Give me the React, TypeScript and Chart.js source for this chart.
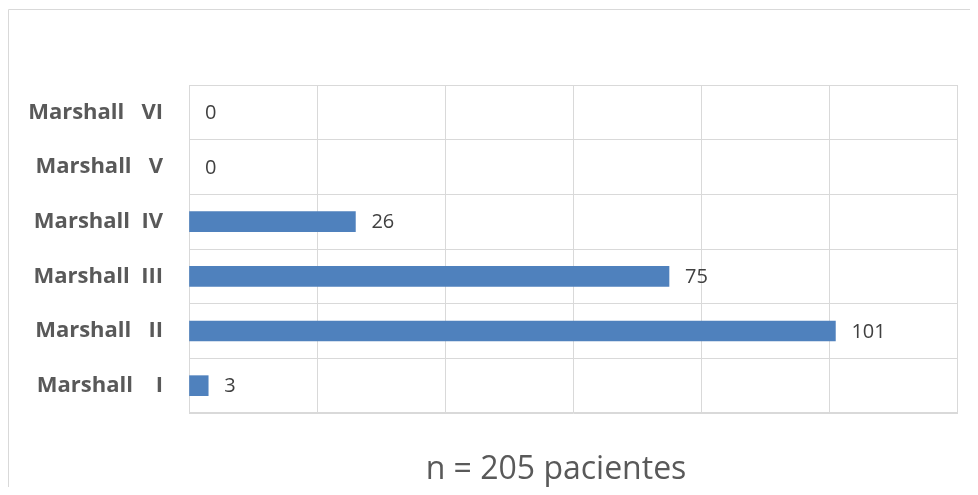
import React, { useEffect, useRef } from "react";
import { Chart, registerables } from "chart.js";

Chart.register(...registerables);

const categories = ["Marshall   VI", "Marshall   V", "Marshall  IV", "Marshall  III", "Marshall   II", "Marshall    I"];
const patients = [0, 0, 26, 75, 101, 3];
const xTicksMax = 120;
const xTickStep = 20;
const footerText = "n = 205 pacientes";

const FONT = "'Open Sans', sans-serif";

const decorPlugin = {
  id: "decor",
  beforeDraw(chart: any) {
    const { ctx, width, height } = chart;
    ctx.save();
    ctx.strokeStyle = "#d9d9d9";
    ctx.lineWidth = 1;
    ctx.beginPath();
    ctx.moveTo(0.5, height);
    ctx.lineTo(0.5, 1.5);
    ctx.lineTo(width, 1.5);
    ctx.stroke();
    ctx.restore();
  },
  afterDatasetsDraw(chart: any) {
    const { ctx, chartArea } = chart;
    const meta = chart.getDatasetMeta(0);
    ctx.save();
    ctx.fillStyle = "#404040";
    ctx.font = `20px ${FONT}`;
    ctx.textBaseline = "middle";
    ctx.textAlign = "left";
    meta.data.forEach((el: any, i: number) => {
      ctx.fillText(String(patients[i]), el.x + 16, el.y + 1);
    });
    ctx.fillStyle = "#595959";
    ctx.font = `32px ${FONT}`;
    ctx.textAlign = "center";
    ctx.textBaseline = "middle";
    ctx.fillText(footerText, (chartArea.left + chartArea.right) / 2 - 17, chartArea.bottom + 57);
    ctx.restore();
  },
};

export default function App() {
  const ref = useRef<HTMLCanvasElement>(null);
  useEffect(() => {
    if (!ref.current) return;
    const chart = new Chart(ref.current, {
      type: "bar",
      data: {
        labels: categories,
        datasets: [
          {
            data: patients,
            backgroundColor: (c: any) => (c.raw === 0 ? "rgba(0,0,0,0)" : "#4f81bd"),
            borderWidth: 0,
            barThickness: 20,
          },
        ],
      },
      options: {
        indexAxis: "y",
        animation: false,
        responsive: false,
        maintainAspectRatio: false,
        layout: { padding: { left: 0, right: 13, top: 77, bottom: 74 } },
        plugins: { legend: { display: false }, tooltip: { enabled: false }, title: { display: false } },
        scales: {
          x: {
            min: 0,
            max: xTicksMax,
            ticks: { display: false, stepSize: xTickStep },
            grid: { color: "#d9d9d9", lineWidth: 1, drawTicks: false },
            border: { display: true, color: "#d9d9d9" },
            afterFit(scale: any) {
              scale.height = 0;
            },
          },
          y: {
            ticks: {
              color: "#595959",
              font: { family: FONT, size: 22, weight: "bold" },
              padding: 26,
            },
            grid: { color: "#d9d9d9", lineWidth: 1, drawTicks: false, offset: true },
            border: { display: true, color: "#d9d9d9" },
            afterFit(scale: any) {
              scale.width = 181;
            },
          },
        },
      },
      plugins: [decorPlugin],
    });
    return () => chart.destroy();
  }, []);
  return (
    <div style={{ width: 962, height: 479, overflow: "hidden" }}>
      <canvas ref={ref} width={962} height={479} style={{ display: "block" }} />
    </div>
  );
}
